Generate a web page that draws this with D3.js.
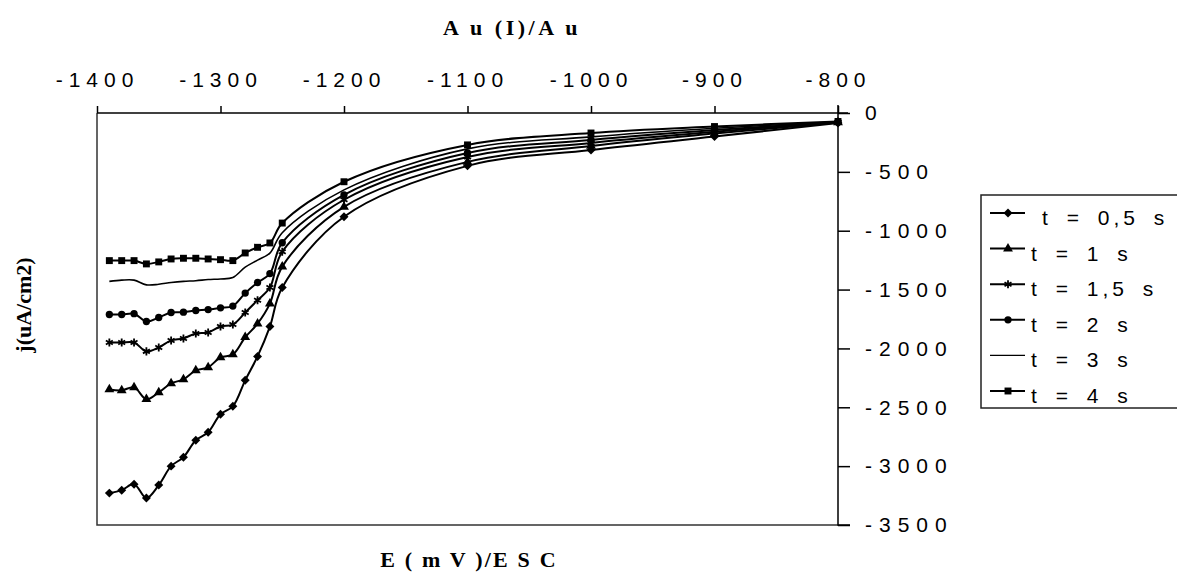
<!DOCTYPE html>
<html>
<head>
<meta charset="utf-8">
<script src="https://cdn.jsdelivr.net/npm/d3@7/dist/d3.min.js"></script>
<style>
  body { margin: 0; background: #fff; }
  svg { display: block; }
</style>
</head>
<body>
<div id="chart"></div>
<script>
// potential E (mV) vs current density j (uA/cm2), one series per pulse time
var potentials = [-1390, -1380, -1370, -1360, -1350, -1340, -1330, -1320, -1310, -1300,
                  -1290, -1280, -1270, -1260, -1250, -1200, -1100, -1000, -900, -800];

var j05 = [-3229, -3204, -3153, -3271, -3161, -3000, -2924, -2780, -2712, -2559,
           -2492, -2271, -2068, -1814, -1483, -881, -449, -314, -200, -85];
var j1  = [-2348, -2356, -2331, -2432, -2373, -2297, -2263, -2187, -2161, -2076,
           -2051, -1905, -1790, -1620, -1305, -797, -415, -280, -175, -80];
var j15 = [-1949, -1949, -1949, -2025, -1992, -1932, -1915, -1873, -1864, -1814,
           -1797, -1695, -1590, -1483, -1178, -737, -373, -254, -160, -78];
var j2  = [-1712, -1712, -1705, -1771, -1737, -1695, -1692, -1678, -1670, -1655,
           -1640, -1530, -1440, -1364, -1102, -695, -339, -229, -145, -76];
var j3  = [-1430, -1420, -1420, -1460, -1455, -1440, -1430, -1425, -1415, -1410,
           -1398, -1310, -1250, -1190, -1017, -653, -305, -203, -130, -74];
var j4  = [-1254, -1254, -1254, -1282, -1265, -1240, -1234, -1234, -1240, -1246,
           -1254, -1189, -1141, -1104, -935, -584, -271, -170, -115, -72];

var seriesNames = ['t = 0,5 s', 't = 1 s', 't = 1,5 s', 't = 2 s', 't = 3 s', 't = 4 s'];
var seriesValues = [j05, j1, j15, j2, j3, j4];
var seriesMarkers = ['diamond', 'triangle', 'asterisk', 'circle', 'none', 'square'];

var xTicks = [-1400, -1300, -1200, -1100, -1000, -900, -800];
var yTicks = [0, -500, -1000, -1500, -2000, -2500, -3000, -3500];

var width = 1177;
var height = 582;
var plotLeft = 97, plotRight = 838, plotTop = 113, plotBottom = 525;
var sansFont = '"Liberation Sans", Arial, sans-serif';
var serifFont = '"Liberation Serif", "Times New Roman", serif';

var x = d3.scaleLinear().domain([-1400, -800]).range([plotLeft, plotRight]);
var y = d3.scaleLinear().domain([-3500, 0]).range([plotBottom, plotTop]);

window.onload = function() {
    var svg = d3.select('#chart').append('svg')
        .attr('width', width)
        .attr('height', height);
    svg.append('rect')
        .attr('width', width)
        .attr('height', height)
        .attr('fill', '#fff');
    drawFrame(svg);
    drawSeries(svg);
    drawLegend(svg);
    drawTitles(svg);
}

function drawFrame(svg) {
    // plot box (left and bottom edges)
    svg.append('path')
        .attr('d', 'M' + plotLeft + ',' + plotTop + 'V' + plotBottom + 'H' + plotRight)
        .attr('fill', 'none')
        .attr('stroke', '#333')
        .attr('stroke-width', 1.5);

    var top = svg.append('g')
        .attr('transform', 'translate(0,' + plotTop + ')')
        .call(d3.axisTop(x).tickValues(xTicks).tickFormat(d3.format('d'))
            .tickSize(7).tickSizeOuter(0).tickPadding(19));
    styleAxis(top, 6);
    top.select('.domain').attr('d', 'M' + plotLeft + ',0H' + (plotRight + 10));

    var right = svg.append('g')
        .attr('transform', 'translate(' + plotRight + ',0)')
        .call(d3.axisRight(y).tickValues(yTicks).tickFormat(d3.format('d'))
            .tickSize(12).tickSizeOuter(12).tickPadding(15));
    styleAxis(right, 7);
    right.select('.domain').attr('d', 'M12,' + plotBottom + 'H0V' + (plotTop - 8));
}

function styleAxis(g, spacing) {
    g.select('.domain').attr('stroke', '#000').attr('stroke-width', 1.5);
    g.selectAll('.tick line').attr('stroke', '#000').attr('stroke-width', 1.5);
    g.selectAll('.tick text')
        .attr('fill', '#000')
        .style('font-family', sansFont)
        .style('font-size', '21px')
        .style('letter-spacing', spacing + 'px')
        .text(function(d) { return d3.format('d')(d).replace('−', '-'); });
}

function markerPath(type, size) {
    var sym = {
        diamond: d3.symbolSquare,   // rotated below
        triangle: d3.symbolTriangle,
        asterisk: d3.symbolAsterisk,
        circle: d3.symbolCircle,
        square: d3.symbolSquare
    }[type];
    return d3.symbol().type(sym).size(size)();
}

function drawMarker(g, type, cx, cy) {
    if (type === 'none') return;
    var sizes = { diamond: 40, triangle: 42, asterisk: 45, circle: 42, square: 48 };
    var m = g.append('path')
        .attr('d', markerPath(type, sizes[type]))
        .attr('transform', 'translate(' + cx + ',' + cy + ')' + (type === 'diamond' ? ' rotate(45)' : ''));
    if (type === 'asterisk') {
        m.attr('fill', 'none').attr('stroke', '#000').attr('stroke-width', 1.8);
    } else {
        m.attr('fill', '#000');
    }
}

function drawSeries(svg) {
    var line = d3.line()
        .x(function(d) { return x(d[0]); })
        .y(function(d) { return y(d[1]); })
        .curve(d3.curveCatmullRom.alpha(0.5));

    for (var s = 0; s < seriesValues.length; s++) {
        var pts = potentials.map(function(p, i) { return [p, seriesValues[s][i]]; });
        var g = svg.append('g');
        g.append('path')
            .attr('d', line(pts))
            .attr('fill', 'none')
            .attr('stroke', '#000')
            .attr('stroke-width', s === 4 ? 1.6 : 2);
        for (var i = 0; i < pts.length; i++) {
            drawMarker(g, seriesMarkers[s], x(pts[i][0]), y(pts[i][1]));
        }
    }
}

function drawLegend(svg) {
    var g = svg.append('g');
    g.append('rect')
        .attr('x', 981)
        .attr('y', 195)
        .attr('width', 220)
        .attr('height', 213)
        .attr('fill', '#fff')
        .attr('stroke', '#222')
        .attr('stroke-width', 1.5);

    for (var s = 0; s < seriesNames.length; s++) {
        var ly = 213 + s * 35.6;
        g.append('line')
            .attr('x1', 990).attr('x2', 1025)
            .attr('y1', ly).attr('y2', ly)
            .attr('stroke', '#000')
            .attr('stroke-width', s === 4 ? 1.2 : 2);
        drawMarker(g, seriesMarkers[s], 1008, ly);
        g.append('text')
            .attr('x', s === 0 ? 1042 : 1031)
            .attr('y', ly + 12)
            .style('font-family', sansFont)
            .style('font-size', '21px')
            .style('letter-spacing', '4px')
            .style('word-spacing', '5px')
            .text(seriesNames[s]);
    }
}

function drawTitles(svg) {
    svg.append('text')
        .attr('x', 512)
        .attr('y', 35)
        .attr('text-anchor', 'middle')
        .style('font-family', serifFont)
        .style('font-weight', 'bold')
        .style('font-size', '22px')
        .style('letter-spacing', '3.5px')
        .text('A u (I)/A u');

    svg.append('text')
        .attr('x', 469)
        .attr('y', 567)
        .attr('text-anchor', 'middle')
        .style('font-family', serifFont)
        .style('font-weight', 'bold')
        .style('font-size', '22px')
        .style('letter-spacing', '2.2px')
        .text('E ( m V )/E S C');

    svg.append('text')
        .attr('transform', 'translate(31,305) rotate(-90)')
        .attr('text-anchor', 'middle')
        .style('font-family', serifFont)
        .style('font-weight', 'bold')
        .style('font-size', '22px')
        .text('j(uA/cm2)');
}
</script>
</body>
</html>
